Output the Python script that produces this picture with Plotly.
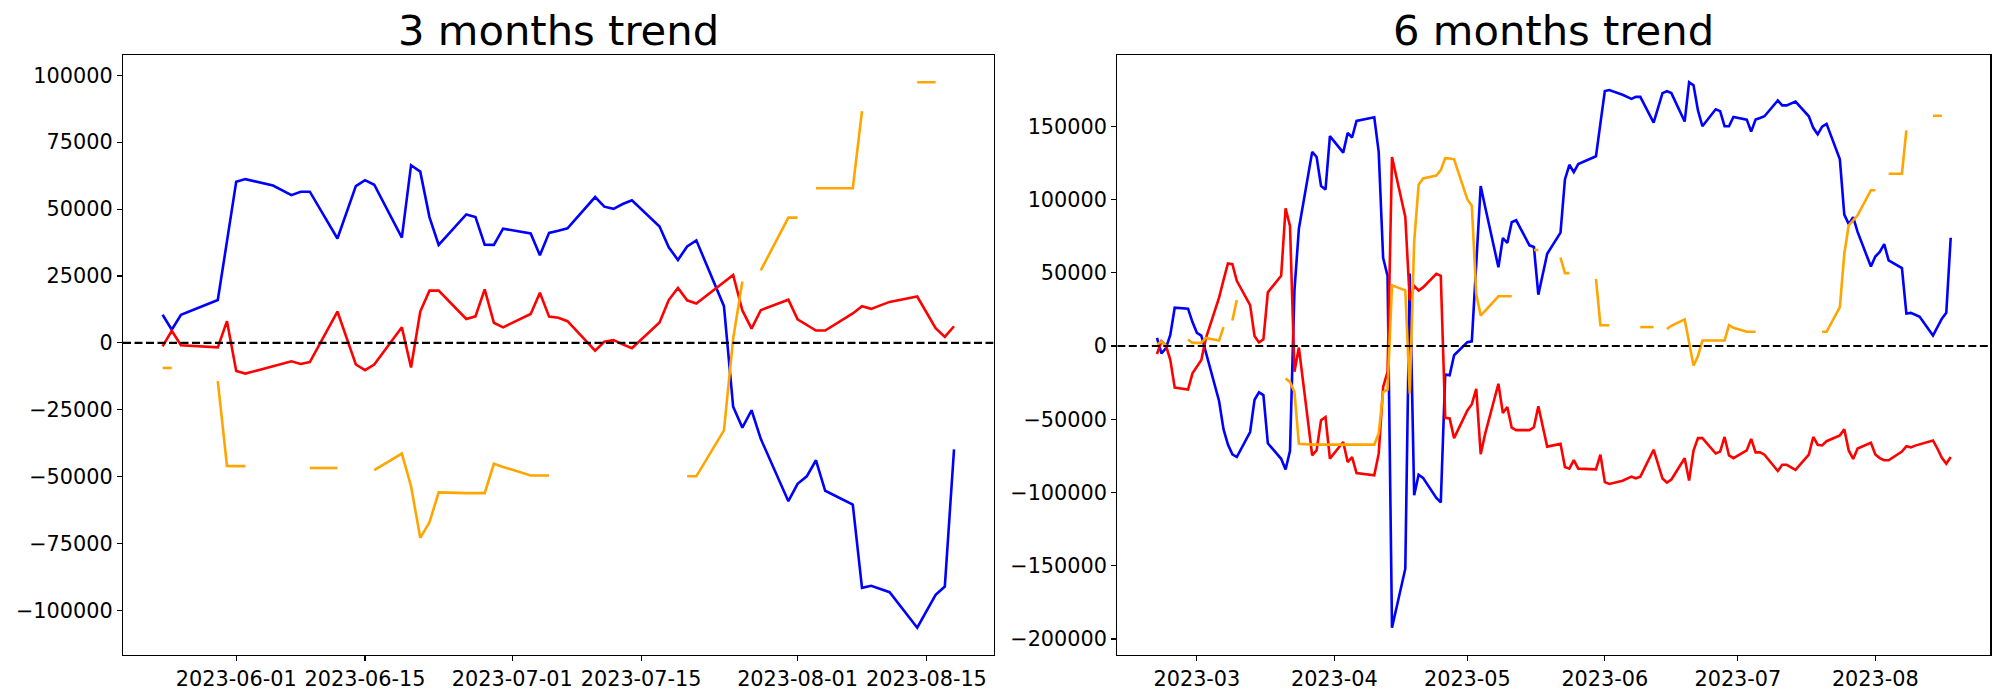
import plotly.graph_objects as go
import pandas as pd

# ---------------- 3 months trend (values in thousands) ----------------
dates_3m = [
    "2023-05-24", "2023-05-25", "2023-05-26", "2023-05-30", "2023-05-31",
    "2023-06-01", "2023-06-02", "2023-06-05", "2023-06-07", "2023-06-08", "2023-06-09",
    "2023-06-12", "2023-06-14", "2023-06-15", "2023-06-16",
    "2023-06-19", "2023-06-20", "2023-06-21", "2023-06-22", "2023-06-23",
    "2023-06-26", "2023-06-27", "2023-06-28", "2023-06-29", "2023-06-30",
    "2023-07-03", "2023-07-04", "2023-07-05", "2023-07-06", "2023-07-07",
    "2023-07-10", "2023-07-11", "2023-07-12", "2023-07-13", "2023-07-14",
    "2023-07-17", "2023-07-18", "2023-07-19", "2023-07-20", "2023-07-21",
    "2023-07-24", "2023-07-25", "2023-07-26", "2023-07-27", "2023-07-28",
    "2023-07-31", "2023-08-01", "2023-08-02", "2023-08-03", "2023-08-04",
    "2023-08-07", "2023-08-08", "2023-08-09", "2023-08-10", "2023-08-11",
    "2023-08-14", "2023-08-15", "2023-08-16", "2023-08-17", "2023-08-18",
]
blue_3m = [
    10.5, 4.9, 10.5, 16.0, 38.0,
    60.2, 61.2, 58.8, 55.2, 56.5, 56.5,
    39.0, 58.6, 60.8, 59.1,
    39.3, 66.4, 64.0, 47.0, 36.6,
    48.0, 47.0, 36.7, 36.6, 42.7,
    40.9, 32.7, 41.1, 41.9, 42.8,
    54.5, 50.9, 50.1, 51.9, 53.3,
    43.5, 35.7, 31.0, 36.0, 38.3,
    13.7, -23.9, -31.7, -25.2, -35.9,
    -59.2, -52.7, -49.9, -43.9, -55.3,
    -60.5, -91.6, -90.8, -92.0, -93.2,
    -106.5, -100.3, -94.2, -91.1, -39.8,
]
red_3m = [
    -1.3, 4.5, -0.9, -1.7, 8.1,
    -10.5, -11.5, -8.9, -6.9, -7.9, -7.2,
    11.7, -8.1, -10.2, -8.1,
    5.8, -9.2, 11.7, 19.5, 19.5,
    8.9, 9.9, 20.0, 7.5, 5.8,
    10.8, 18.7, 9.8, 9.4, 8.1,
    -2.9, 0.4, 1.0, -0.6, -2.0,
    7.6, 16.0, 20.5, 15.9, 14.7,
    22.6, 25.4, 12.1, 5.3, 12.2,
    16.1, 8.8, 6.6, 4.6, 4.6,
    11.0, 13.7, 12.7, 14.0, 15.3,
    17.3, 11.4, 5.5, 2.2, 6.2,
]
orange_3m = [
    -9.4, -9.4, None, -14.3, -46.0,
    -46.1, -46.1, None, None, None, -46.8,
    -46.8, None, None, -47.6,
    -41.4, -53.6, -72.9, -67.1, -55.9,
    -56.2, -56.2, -56.2, -45.2, -46.4,
    -49.6, -49.6, -49.6, None, None,
    None, None, None, None, None,
    None, None, None, -49.9, -49.9,
    -32.7, 1.6, 22.9, None, 27.1,
    46.8, 46.8, None, 57.8, 57.8,
    57.8, 86.6, None, None, None,
    97.4, 97.4, 97.4, None, None,
]
xticks_3m = ["2023-06-01", "2023-06-15", "2023-07-01", "2023-07-15", "2023-08-01", "2023-08-15"]
yticks_3m = [-100000, -75000, -50000, -25000, 0, 25000, 50000, 75000, 100000]

# ---------------- 6 months trend (values in thousands) ----------------
dates_6m = [
    "2023-02-20", "2023-02-21", "2023-02-22", "2023-02-23", "2023-02-24",
    "2023-02-27", "2023-02-28", "2023-03-01", "2023-03-02", "2023-03-03",
    "2023-03-06", "2023-03-07", "2023-03-08", "2023-03-09", "2023-03-10",
    "2023-03-13", "2023-03-14", "2023-03-15", "2023-03-16", "2023-03-17",
    "2023-03-20", "2023-03-21", "2023-03-22", "2023-03-23", "2023-03-24",
    "2023-03-27", "2023-03-28", "2023-03-29", "2023-03-30", "2023-03-31",
    "2023-04-03", "2023-04-04", "2023-04-05", "2023-04-06",
    "2023-04-10", "2023-04-11", "2023-04-12", "2023-04-13", "2023-04-14",
    "2023-04-17", "2023-04-18", "2023-04-19", "2023-04-20", "2023-04-21",
    "2023-04-24", "2023-04-25", "2023-04-26", "2023-04-27", "2023-04-28",
    "2023-05-01", "2023-05-02", "2023-05-03", "2023-05-04", "2023-05-05",
    "2023-05-08", "2023-05-09", "2023-05-10", "2023-05-11", "2023-05-12",
    "2023-05-15", "2023-05-16", "2023-05-17", "2023-05-18", "2023-05-19",
    "2023-05-22", "2023-05-23", "2023-05-24", "2023-05-25", "2023-05-26",
    "2023-05-30", "2023-05-31", "2023-06-01", "2023-06-02",
    "2023-06-05", "2023-06-07", "2023-06-08", "2023-06-09",
    "2023-06-12", "2023-06-14", "2023-06-15", "2023-06-16",
    "2023-06-19", "2023-06-20", "2023-06-21", "2023-06-22", "2023-06-23",
    "2023-06-26", "2023-06-27", "2023-06-28", "2023-06-29", "2023-06-30",
    "2023-07-03", "2023-07-04", "2023-07-05", "2023-07-06", "2023-07-07",
    "2023-07-10", "2023-07-11", "2023-07-12", "2023-07-13", "2023-07-14",
    "2023-07-17", "2023-07-18", "2023-07-19", "2023-07-20", "2023-07-21",
    "2023-07-24", "2023-07-25", "2023-07-26", "2023-07-27", "2023-07-28",
    "2023-07-31", "2023-08-01", "2023-08-02", "2023-08-03", "2023-08-04",
    "2023-08-07", "2023-08-08", "2023-08-09", "2023-08-10", "2023-08-11",
    "2023-08-14", "2023-08-15", "2023-08-16", "2023-08-17", "2023-08-18",
]
blue_6m = [
    5.5, -5.0, -1.6, 7.6, 26.1,
    25.5, 16.3, 9.0, 7.1, -4.0,
    -37.5, -56.8, -67.3, -74.0, -75.8,
    -58.7, -36.7, -31.6, -33.5, -66.4,
    -77.0, -84.3, -71.5, 38.0, 80.0,
    132.5, 129.0, 109.2, 106.8, 143.2,
    132.0, 145.4, 142.3, 153.6,
    156.1, 132.5, 60.1, 47.8, -192.3,
    -152.0, 49.4, -101.9, -87.8, -90.0,
    -103.7, -106.8, -19.5, -20.0, -6.3,
    2.6, 3.2, 56.0, 109.2, 95.0,
    53.7, 73.7, 70.3, 84.5, 85.8,
    68.7, 67.6, 35.0, 49.0, 62.9,
    77.4, 113.7, 123.7, 118.7, 124.2,
    129.5, 152.0, 174.0, 174.7,
    171.5, 168.7, 170.0, 170.0,
    152.4, 172.6, 173.9, 172.6,
    153.2, 180.0, 177.9, 160.8, 150.0,
    161.6, 160.3, 150.0, 150.0, 156.3,
    154.5, 146.3, 154.5, 155.6, 156.8,
    167.6, 164.2, 164.2, 165.5, 166.8,
    156.8, 148.9, 144.5, 149.7, 151.6,
    127.4, 89.7, 83.2, 87.9, 77.9,
    54.2, 61.1, 64.2, 69.5, 58.4,
    53.2, 22.1, 22.6, 21.3, 20.0,
    7.1, 13.0, 18.7, 22.6, 73.9,
]
red_6m = [
    -5.5, 3.2, 0.5, -9.5, -28.4,
    -29.7, -18.7, -14.2, -9.5, 5.0,
    33.0, 45.0, 56.3, 55.8, 44.5,
    27.9, 6.8, 2.4, 4.5, 36.6,
    47.9, 93.9, 81.8, -17.6, -1.1,
    -74.6, -71.2, -50.7, -48.5, -76.9,
    -65.5, -79.2, -75.8, -86.7,
    -88.3, -73.5, -28.0, -17.7, 129.0,
    88.1, 31.2, 41.0, 37.9, 40.0,
    49.2, 47.9, -49.0, -49.5, -62.9,
    -44.0, -39.7, -29.2, -73.9, -60.0,
    -25.8, -45.8, -41.6, -55.8, -57.4,
    -57.4, -55.5, -41.1, -55.0, -68.7,
    -66.8, -82.6, -83.7, -77.9, -83.7,
    -84.2, -74.2, -92.9, -94.2,
    -92.0, -89.2, -90.3, -89.2,
    -70.8, -90.5, -93.2, -91.1,
    -76.6, -91.8, -71.3, -62.9, -62.9,
    -73.4, -72.1, -62.1, -74.7, -76.6,
    -71.3, -63.4, -72.6, -72.6, -74.2,
    -85.3, -81.1, -81.1, -83.0, -84.5,
    -74.2, -62.1, -67.4, -67.9, -65.0,
    -61.0, -56.8, -71.3, -77.1, -70.0,
    -66.1, -74.0, -76.5, -78.0, -78.0,
    -72.0, -68.4, -69.2, -68.0, -67.1,
    -64.5, -70.0, -76.3, -80.3, -75.8,
]
orange_6m = [
    1.0, 3.0, 0.5, None, None,
    4.5, 2.1, 2.1, 2.1, 5.5,
    3.7, 12.9, None, 17.4, 31.3,
    None, None, None, None, None,
    None, -22.3, -24.5, -31.4, -66.7,
    -67.3, -67.3, -67.3, -67.3, -67.3,
    -67.5, -67.5, -67.5, -67.5,
    -67.3, -59.8, -31.4, -29.8, 41.4,
    38.0, -32.5, 71.0, 110.0, 114.3,
    116.3, 120.0, 128.2, 128.0, 127.4,
    100.0, 95.8, 35.3, 20.8, 24.0,
    33.9, 33.9, 33.9, 33.9, None,
    None, 65.5, 65.5, None, None,
    60.3, 49.7, 49.7, None, None,
    45.8, 14.2, 14.2, 14.2,
    None, None, None, 12.9,
    12.9, None, 11.6, 13.8,
    18.2, 2.4, -13.4, -6.8, 3.7,
    3.7, 3.7, 3.7, 14.2, 12.5,
    9.7, 9.7, 9.7, None, None,
    None, None, None, None, None,
    None, None, None, 9.7, 9.7,
    26.6, 63.0, 82.4, 86.0, 89.2,
    106.3, 106.3, None, None, 117.6,
    117.6, 147.1, None, None, None,
    157.1, 157.1, 157.1, None, None,
]
xticks_6m = ["2023-03-01", "2023-04-01", "2023-05-01", "2023-06-01", "2023-07-01", "2023-08-01"]
xticklabels_6m = ["2023-03", "2023-04", "2023-05", "2023-06", "2023-07", "2023-08"]
yticks_6m = [-200000, -150000, -100000, -50000, 0, 50000, 100000, 150000]

colors = {"blue": "#0000ff", "red": "#ff0000", "orange": "#ffa500"}
FONT = "DejaVu Sans"

# page is 2000x700; the body margin is removed by a post script so the
# figure sits at the page origin
W, H = 2000, 700


def scale(vals):
    return [None if v is None else v * 1000 for v in vals]


def x_range(dates):
    d = pd.to_datetime(dates)
    lo, hi = d.min(), d.max()
    pad = (hi - lo) * 0.05
    return [(lo - pad).strftime("%Y-%m-%d %H:%M:%S"), (hi + pad).strftime("%Y-%m-%d %H:%M:%S")]


def y_range(*series):
    allv = [v * 1000 for s in series for v in s if v is not None]
    lo, hi = min(allv), max(allv)
    pad = (hi - lo) * 0.05
    return [lo - pad, hi + pad]


def fmt(v):
    return str(v).replace("-", "\u2212")


def xdom(a, b):
    return [a / W, b / W]


def ydom(top, bottom):
    return [(H - bottom) / H, (H - top) / H]


fig = go.Figure()

panels = [
    ("x", "y", dates_3m, blue_3m, red_3m, orange_3m),
    ("x2", "y2", dates_6m, blue_6m, red_6m, orange_6m),
]
for xa, ya, d, b, r, o in panels:
    for vals, c in ((b, "blue"), (r, "red"), (o, "orange")):
        fig.add_trace(go.Scatter(
            x=d, y=scale(vals), mode="lines", xaxis=xa, yaxis=ya,
            line=dict(color=colors[c], width=2.6), connectgaps=False,
            showlegend=False, hoverinfo="skip",
        ))
    xr = x_range(d)
    fig.add_trace(go.Scatter(
        x=xr, y=[0, 0], mode="lines", xaxis=xa, yaxis=ya,
        line=dict(color="black", width=2.2, dash="8px,3.5px"),
        showlegend=False, hoverinfo="skip",
    ))

# axes geometry (page pixels)
left_px = (123, 993.6)
right_px = (1117.3, 1990.4)
top_px, bottom_px = 55, 655
yd = ydom(top_px, bottom_px)

axis_common = dict(
    showline=True, linecolor="black", linewidth=1.1, mirror=True,
    ticks="outside", ticklen=5, tickwidth=1.1, tickcolor="black",
    showgrid=False, zeroline=False,
    tickfont=dict(family=FONT, size=20.8, color="black"),
)

fig.update_layout(
    width=W, height=H,
    margin=dict(l=0, r=0, t=0, b=0, autoexpand=False),
    paper_bgcolor="white", plot_bgcolor="white",
    xaxis=dict(domain=xdom(*left_px), anchor="y", type="date",
               range=x_range(dates_3m), tickmode="array", tickvals=xticks_3m,
               ticktext=xticks_3m, **axis_common),
    yaxis=dict(domain=yd, anchor="x", range=y_range(blue_3m, red_3m, orange_3m),
               tickmode="array", tickvals=yticks_3m,
               ticktext=[fmt(v) for v in yticks_3m], **axis_common),
    xaxis2=dict(domain=xdom(*right_px), anchor="y2", type="date",
                range=x_range(dates_6m), tickmode="array", tickvals=xticks_6m,
                ticktext=xticklabels_6m, **axis_common),
    yaxis2=dict(domain=yd, anchor="x2", range=y_range(blue_6m, red_6m, orange_6m),
                tickmode="array", tickvals=yticks_6m,
                ticktext=[fmt(v) for v in yticks_6m], **axis_common),
)

titles = [("3 months trend", left_px), ("6 months trend", right_px)]
for text, (a, b) in titles:
    fig.add_annotation(
        text=text, xref="paper", yref="paper",
        x=(a + b) / 2 / W, y=yd[1], xanchor="center", yanchor="bottom",
        yshift=-2, showarrow=False,
        font=dict(family=FONT, size=41.7, color="black"),
    )

fig.write_html(
    "out.html",
    config={"displayModeBar": False, "staticPlot": True},
    post_script="document.body.style.margin='0';document.body.style.overflow='hidden';",
)
